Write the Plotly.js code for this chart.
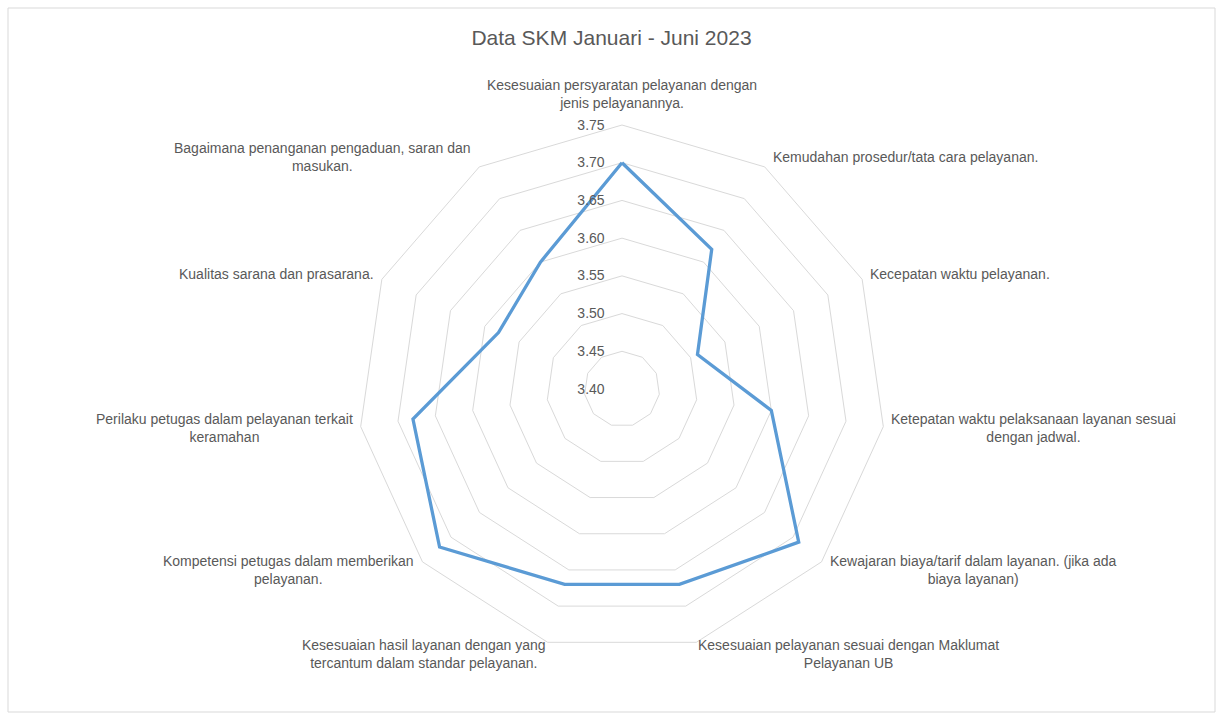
<!DOCTYPE html>
<html>
<head>
<meta charset="utf-8">
<script src="https://cdn.plot.ly/plotly-3.0.1.min.js"></script>
<style>html,body{margin:0;padding:0;background:#fff;}#chart{width:1223px;height:720px;}</style>
</head>
<body>
<div id="chart"></div>
<script>
var categories = [
  "Kesesuaian persyaratan pelayanan dengan<br>jenis pelayanannya.",
  "Kemudahan prosedur/tata cara pelayanan.",
  "Kecepatan waktu pelayanan.",
  "Ketepatan waktu pelaksanaan layanan sesuai<br>dengan jadwal.",
  "Kewajaran biaya/tarif dalam layanan. (jika ada<br>biaya layanan)",
  "Kesesuaian pelayanan sesuai dengan Maklumat<br>Pelayanan UB",
  "Kesesuaian hasil layanan dengan yang<br>tercantum dalam standar pelayanan.",
  "Kompetensi petugas dalam memberikan<br>pelayanan.",
  "Perilaku petugas dalam pelayanan terkait<br>keramahan",
  "Kualitas sarana dan prasarana.",
  "Bagaimana penanganan pengaduan, saran dan<br>masukan."
];
var values = [3.70, 3.62, 3.51, 3.60, 3.71, 3.67, 3.67, 3.72, 3.68, 3.58, 3.60];
var radialTicks = [3.40, 3.45, 3.50, 3.55, 3.60, 3.65, 3.70, 3.75];
var chartTitle = "Data SKM Januari - Juni 2023";

var thetaClosed = categories.concat([categories[0]]);
var rClosed = values.concat([values[0]]);

var W = 1223, H = 720;
var cx = 622, cy = 389, R = 264;
var fontFam = '"Liberation Sans", Arial, sans-serif';
var textColor = '#595959';

var trace = {
  type: 'scatterpolar',
  r: rClosed,
  theta: thetaClosed,
  mode: 'lines',
  line: {color: '#5b9bd5', width: 3.3},
  hoverinfo: 'r+theta',
  showlegend: false
};

// category labels placed outside each outer vertex, centred text like the original
var annotations = categories.map(function (label, i) {
  var a = i * 2 * Math.PI / categories.length;
  var s = Math.sin(a), c = Math.cos(a);
  var vx = cx + R * s, vy = cy - R * c;
  var ann = {
    xref: 'paper', yref: 'paper',
    x: vx / W, y: 1 - vy / H,
    text: label, showarrow: false, align: 'center',
    font: {family: fontFam, size: 14, color: textColor}
  };
  if (Math.abs(s) < 0.1) {
    ann.xanchor = 'center';
    ann.yanchor = c > 0 ? 'bottom' : 'top';
    ann.yshift = c > 0 ? 12 : -12;
  } else {
    ann.xanchor = s > 0 ? 'left' : 'right';
    ann.xshift = Math.abs(s) < 0.4 ? 0 : (s > 0 ? 6 : -6);
    ann.yanchor = 'middle';
    ann.yshift = 12 * c;
  }
  return ann;
});

var layout = {
  width: W, height: H,
  margin: {l: 0, r: 0, t: 0, b: 0},
  paper_bgcolor: '#ffffff',
  showlegend: false,
  title: {
    text: chartTitle,
    font: {family: fontFam, size: 21, color: textColor},
    x: 0.5, xanchor: 'center', y: 1 - 38 / H, yanchor: 'middle'
  },
  font: {family: fontFam, color: textColor, size: 14},
  polar: {
    domain: {x: [(cx - R) / W, (cx + R) / W], y: [(H - cy - R) / H, (H - cy + R) / H]},
    gridshape: 'linear',
    bgcolor: 'rgba(0,0,0,0)',
    radialaxis: {
      range: [3.40, 3.75],
      tickvals: radialTicks,
      tickformat: '.2f',
      angle: 90,
      tickangle: 90,
      side: 'counterclockwise',
      showline: false,
      ticks: 'outside',
      ticklen: 12,
      tickcolor: 'rgba(0,0,0,0)',
      gridcolor: '#d9d9d9',
      gridwidth: 1,
      tickfont: {family: fontFam, size: 14, color: textColor}
    },
    angularaxis: {
      type: 'category',
      categoryorder: 'array',
      categoryarray: categories,
      direction: 'clockwise',
      rotation: 90,
      showgrid: false,
      showline: true,
      linecolor: '#d9d9d9',
      linewidth: 1,
      ticks: '',
      showticklabels: false
    }
  },
  annotations: annotations,
  shapes: [{
    type: 'rect', xref: 'paper', yref: 'paper',
    x0: 8 / W, x1: 1215 / W, y0: 1 - 712 / H, y1: 1 - 8 / H,
    line: {color: '#d9d9d9', width: 1}, fillcolor: 'rgba(0,0,0,0)'
  }]
};

Plotly.newPlot('chart', [trace], layout, {displayModeBar: false, staticPlot: true});
</script>
</body>
</html>
